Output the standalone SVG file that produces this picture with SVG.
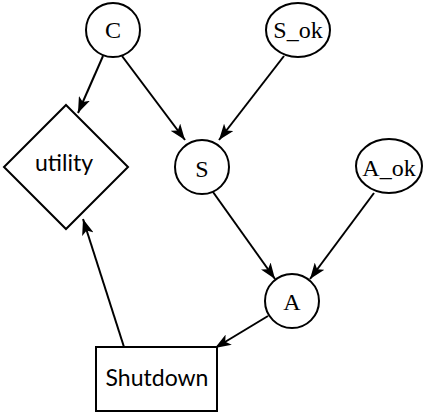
<svg xmlns="http://www.w3.org/2000/svg" width="424" height="416" viewBox="0 0 424 416">
<defs>
<marker id="ah" viewBox="0 0 16 12" refX="16" refY="6" markerWidth="16" markerHeight="12" markerUnits="userSpaceOnUse" orient="auto">
<path d="M0,0 L16,6 L0,12 L4,6 z" fill="#000"/>
</marker>
<style>
.n{fill:#fff;stroke:#000;stroke-width:2}
.e{fill:none;stroke:#000;stroke-width:2;marker-end:url(#ah)}
.t{font-family:"Liberation Serif","Times New Roman",serif;font-size:24px;text-anchor:middle;fill:#000}
.s{font-family:Lato,"Open Sans",sans-serif;font-size:23px;text-anchor:middle;fill:#000}
</style>
</defs>
<rect width="424" height="416" fill="#fff"/>
<g id="edges">
<line class="e" x1="103" y1="56" x2="78" y2="113"/>
<line class="e" x1="122" y1="56" x2="185" y2="140"/>
<line class="e" x1="284" y1="56" x2="219" y2="140"/>
<line class="e" x1="213" y1="192" x2="275" y2="279"/>
<line class="e" x1="374" y1="193" x2="310" y2="279"/>
<line class="e" x1="268" y1="316" x2="215" y2="348"/>
<line class="e" x1="124" y1="347" x2="83" y2="219"/>
</g>
<g id="C"><circle class="n" cx="113" cy="30" r="27"/><text class="t" x="113" y="38">C</text></g>
<g id="S_ok"><ellipse class="n" cx="298" cy="30" rx="32" ry="27"/><text class="t" x="298" y="38">S_ok</text></g>
<g id="utility"><polygon class="n" points="66,105 128,167 66,229 4,167"/><text class="s" x="64" y="171">utility</text></g>
<g id="S"><circle class="n" cx="202" cy="167" r="27"/><text class="t" x="202" y="177">S</text></g>
<g id="A_ok"><ellipse class="n" cx="389" cy="166" rx="33" ry="27"/><text class="t" x="389" y="176">A_ok</text></g>
<g id="A"><circle class="n" cx="292" cy="301" r="27"/><text class="t" x="292" y="310">A</text></g>
<g id="Shutdown"><rect class="n" x="96" y="347" width="121" height="64"/><text class="s" x="157" y="386">Shutdown</text></g>
</svg>
